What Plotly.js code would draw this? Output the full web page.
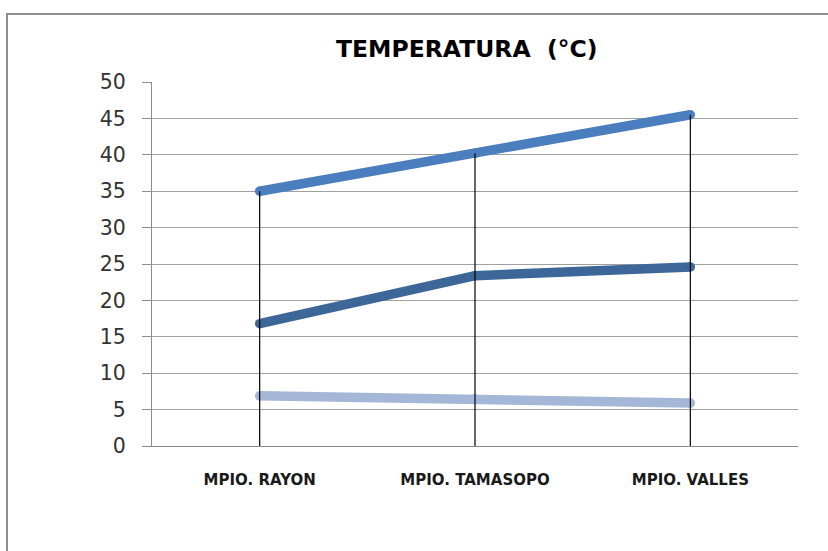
<!DOCTYPE html>
<html>
<head>
<meta charset="utf-8">
<script src="https://cdn.plot.ly/plotly-3.0.1.min.js"></script>
<style>
  html, body { margin: 0; padding: 0; background: #fff; overflow: hidden; }
  #chart { position: absolute; left: 0; top: 0; width: 828px; height: 551px; }
  #frame { position: absolute; left: 6px; top: 13px; width: 900px; height: 600px;
           border: 2px solid #8e8e8e; pointer-events: none; box-sizing: border-box; }
</style>
</head>
<body>
<div id="chart"></div>
<div id="frame"></div>
<script>
const categories = ["MPIO. RAYON", "MPIO. TAMASOPO", "MPIO. VALLES"];
const seriesHigh = [35.0, 40.2, 45.5];
const seriesMid  = [16.8, 23.4, 24.6];
const seriesLow  = [6.9, 6.5, 5.9];
const yTicks = [0, 5, 10, 15, 20, 25, 30, 35, 40, 45, 50];

// drop lines from 0 to the highest value of each category
const dropX = [], dropY = [];
categories.forEach((c, i) => {
  const top = Math.max(seriesHigh[i], seriesMid[i], seriesLow[i]);
  dropX.push(c, c, null);
  dropY.push(0, top, null);
});

function seriesTrace(vals, color) {
  return { type: "scatter", mode: "lines+markers", x: categories, y: vals, hoverinfo: "skip",
           line: { width: 9.5, color: color },
           marker: { size: 9.5, color: color, line: { width: 0 } } };
}

const traces = [
  seriesTrace(seriesLow, "#a5b7d7"),
  seriesTrace(seriesMid, "#3d6699"),
  seriesTrace(seriesHigh, "#4a7ebf"),
  { type: "scatter", mode: "lines", x: dropX, y: dropY, hoverinfo: "skip",
    connectgaps: false, line: { width: 1.2, color: "#000000" } }
];

const layout = {
  width: 828, height: 551,
  margin: { l: 152, r: 30, t: 82, b: 105 },
  paper_bgcolor: "#ffffff", plot_bgcolor: "#ffffff",
  showlegend: false,
  title: { text: "" },
  xaxis: {
    type: "category", range: [-0.5, 2.5],
    showgrid: false, zeroline: false,
    showline: true, linecolor: "#8c8c8c", linewidth: 1,
    ticks: "", ticklabelstandoff: 20,
    tickfont: { family: "DejaVu Sans", size: 15, color: "#1a1a1a", weight: "bold" }
  },
  yaxis: {
    range: [0, 50], tickvals: yTicks, ticktext: yTicks.map(String),
    showgrid: true, gridcolor: "#a0a0a0", gridwidth: 1,
    zeroline: false, showline: true, linecolor: "#8c8c8c", linewidth: 1,
    ticks: "outside", ticklen: 9, tickcolor: "#8c8c8c", ticklabelstandoff: 12,
    tickfont: { family: "DejaVu Sans", size: 20.5, color: "#333333" }
  },
  annotations: [{
    text: "<b>TEMPERATURA  (°C)</b>", xref: "paper", yref: "paper",
    x: (466 - 152) / 646, y: 1 + (82 - 49) / 364, xanchor: "center", yanchor: "middle",
    showarrow: false, font: { family: "DejaVu Sans", size: 23.5, color: "#000000" }
  }]
};

Plotly.newPlot("chart", traces, layout, { staticPlot: true, displayModeBar: false });
</script>
</body>
</html>
